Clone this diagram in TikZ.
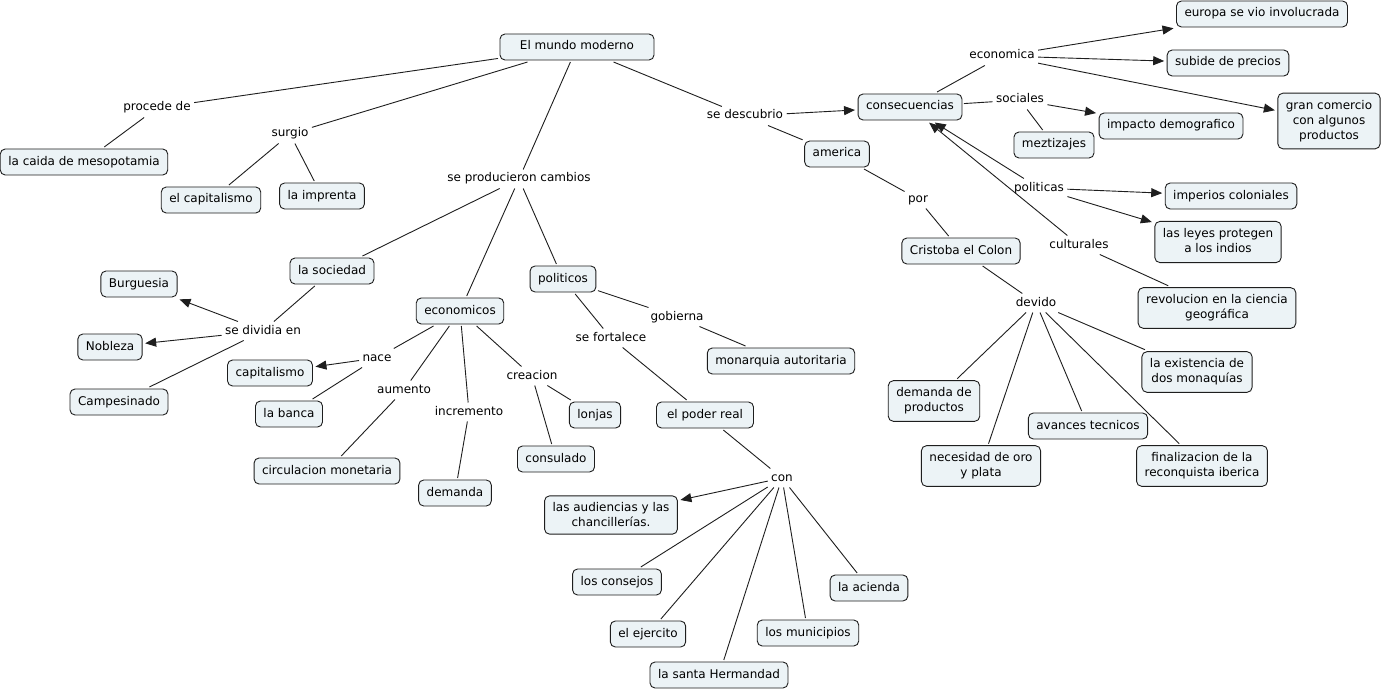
\documentclass[tikz,border=0pt]{standalone}
\usepackage{fontspec}
\setmainfont{DejaVu Sans}
\usetikzlibrary{arrows.meta}
\definecolor{cfill}{RGB}{236,243,246}
\definecolor{cline}{RGB}{30,30,30}
\begin{document}
\begin{tikzpicture}[x=1pt,y=-1pt,
 every node/.style={font=\fontsize{12}{15}\selectfont, text=black},
 concept/.style={draw=cline, fill=cfill, rounded corners=5pt, line width=0.9pt, inner xsep=8pt, inner ysep=7pt, text height=9pt, text depth=3pt, align=center, outer sep=2pt},
 multi/.style={concept, text height=, text depth=, inner ysep=7pt},
 lab/.style={inner sep=1pt, outer sep=2.5pt, text height=9pt, text depth=3pt},
 link/.style={draw=cline, line width=0.9pt},
 arr/.style={link, -{Triangle[length=11pt,width=9pt]}, shorten >=1pt}
]
\useasboundingbox (0,0) rectangle (1382,690);
\fill[white] (0,0) rectangle (1382,690);

% concepts
\node[concept, minimum width=154pt] (mundo) at (577,47) {El mundo moderno};
\node[concept] (caida) at (84,162) {la caida de mesopotamia};
\node[concept] (capit1) at (211,200) {el capitalismo};
\node[concept] (impr) at (322,196) {la imprenta};
\node[concept] (consec) at (910,107) {consecuencias};
\node[concept] (america) at (837,154) {america};
\node[concept] (colon) at (961,251) {Cristoba el Colon};
\node[multi] (demprod) at (934,401) {demanda de\\productos};
\node[multi] (oro) at (981,466) {necesidad de oro\\y plata};
\node[concept] (avances) at (1088,426) {avances tecnicos};
\node[multi] (final) at (1202,466) {finalizacion de la\\reconquista iberica};
\node[multi] (exist) at (1197,372) {la existencia de\\dos monaquías};
\node[multi] (revol) at (1217,308) {revolucion en la ciencia\\geográfica};
\node[concept] (imper) at (1231,196) {imperios coloniales};
\node[multi] (leyes) at (1218,242) {las leyes protegen\\a los indios\rule[-3pt]{0pt}{3pt}};
\node[concept] (europa) at (1262,14) {europa se vio involucrada};
\node[concept] (subide) at (1228,63) {subide de precios};
\node[multi] (gran) at (1329,121) {gran comercio\\con algunos\\productos};
\node[concept] (impacto) at (1171,126) {impacto demografico};
\node[concept] (mezt) at (1054,145) {meztizajes};
\node[concept] (soc) at (332,271) {la sociedad};
\node[concept] (burg) at (139,284) {Burguesia};
\node[concept] (nob) at (110,347) {Nobleza};
\node[concept] (camp) at (119,402) {Campesinado};
\node[concept] (econ) at (460,311) {economicos};
\node[concept] (capit2) at (270,373) {capitalismo};
\node[concept] (banca) at (289,414) {la banca};
\node[concept] (circ) at (327,471) {circulacion monetaria};
\node[concept] (demanda) at (455,493) {demanda};
\node[concept] (lonjas) at (595,415) {lonjas};
\node[concept] (consul) at (556,459) {consulado};
\node[concept] (polit) at (563,279) {politicos};
\node[concept] (monarq) at (781,361) {monarquia autoritaria};
\node[concept, minimum width=97pt] (poder) at (705,415) {el poder real};
\node[multi] (audi) at (611,515) {las audiencias y las\\chancillerías.};
\node[concept] (conse) at (617,582) {los consejos};
\node[concept] (ejer) at (648,634) {el ejercito};
\node[concept] (santa) at (719,675) {la santa Hermandad};
\node[concept] (munic) at (808,633) {los municipios};
\node[concept] (acien) at (869,588) {la acienda};

% linking phrases
\node[lab] (procede) at (157,108) {procede de};
\node[lab] (surgio) at (290,134) {surgio};
\node[lab] (spc) at (519,179) {se producieron cambios};
\node[lab] (descub) at (745,116) {se descubrio};
\node[lab] (por) at (918,199) {por};
\node[lab] (devido) at (1036,303) {devido};
\node[lab] (economica) at (1002,56) {economica};
\node[lab] (sociales) at (1020,100) {sociales};
\node[lab] (politicas) at (1039,188) {politicas};
\node[lab] (cultur) at (1079,245) {culturales};
\node[lab] (divid) at (263,331) {se dividia en};
\node[lab] (nace) at (377,358) {nace};
\node[lab] (aumento) at (404,390) {aumento};
\node[lab] (increm) at (469,412) {incremento};
\node[lab] (creacion) at (532,376) {creacion};
\node[lab] (gobierna) at (677,317) {gobierna};
\node[lab] (fortal) at (611,338) {se fortalece};
\node[lab] (con) at (782,478) {con};

% connectors
\draw[link] (mundo) -- (procede);
\draw[link] (procede) -- (caida);
\draw[link] (mundo) -- (surgio);
\draw[link] (surgio) -- (capit1);
\draw[link] (surgio) -- (impr);
\draw[link] (mundo) -- (spc);
\draw[link] (spc) -- (soc);
\draw[link] (spc) -- (econ);
\draw[link] (spc) -- (polit);
\draw[link] (mundo) -- (descub);
\draw[arr] (descub) -- (consec);
\draw[link] (descub) -- (america);
\draw[link] (america) -- (por);
\draw[link] (por) -- (colon);
\draw[link] (colon) -- (devido);
\draw[link] (devido) -- (demprod);
\draw[link] (devido) -- (oro);
\draw[link] (devido) -- (avances);
\draw[link] (devido) -- (final);
\draw[link] (devido) -- (exist);
\draw[link] (consec) -- (economica);
\draw[arr] (economica) -- (europa);
\draw[arr] (economica) -- (subide);
\draw[arr] (economica) -- (gran);
\draw[link] (consec) -- (sociales);
\draw[arr] (sociales) -- (impacto);
\draw[link] (sociales) -- (mezt);
\draw[arr] (politicas) -- (consec);
\draw[arr] (politicas) -- (imper);
\draw[arr] (politicas) -- (leyes);
\draw[arr] (cultur) -- (consec);
\draw[link] (cultur) -- (revol);
\draw[link] (soc) -- (divid);
\draw[arr] (divid) -- (burg);
\draw[arr] (divid) -- (nob);
\draw[link] (divid) -- (camp);
\draw[link] (econ) -- (nace);
\draw[arr] (nace) -- (capit2);
\draw[link] (nace) -- (banca);
\draw[link] (econ) -- (aumento);
\draw[link] (aumento) -- (circ);
\draw[link] (econ) -- (increm);
\draw[link] (increm) -- (demanda);
\draw[link] (econ) -- (creacion);
\draw[link] (creacion) -- (lonjas);
\draw[link] (creacion) -- (consul);
\draw[link] (polit) -- (gobierna);
\draw[link] (gobierna) -- (monarq);
\draw[link] (polit) -- (fortal);
\draw[link] (fortal) -- (poder);
\draw[link] (poder) -- (con);
\draw[arr] (con) -- (audi);
\draw[link] (con) -- (conse);
\draw[link] (con) -- (ejer);
\draw[link] (con) -- (santa);
\draw[link] (con) -- (munic);
\draw[link] (con) -- (acien);
\end{tikzpicture}
\end{document}
